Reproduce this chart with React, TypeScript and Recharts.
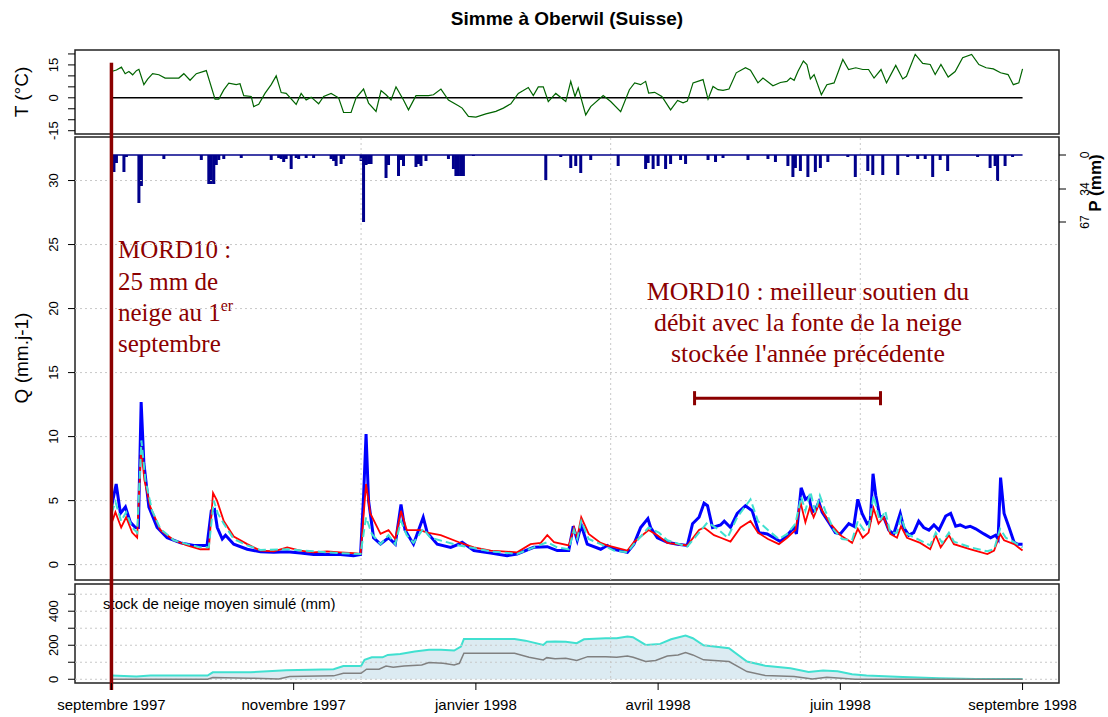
import React from 'react';
import { ComposedChart, Line, Area, Bar, XAxis, YAxis, ReferenceLine, ReferenceArea } from 'recharts';

const SANS = 'Liberation Sans, Arial, sans-serif';
const SERIF = 'Liberation Serif, Times New Roman, serif';
const DARK_RED = '#8B0000';

// x axis: days since 1 Sept 1997
const X_MIN = -14.6;
const X_MAX = 379.6;
const X_TICKS = [0, 73, 146, 219, 292, 365];
const X_LABELS = ['septembre 1997', 'novembre 1997', 'janvier 1998', 'avril 1998', 'juin 1998', 'septembre 1998'];
const X_GRID = [0, 100, 200, 300];

// temperature panel
const T_TICKS = [-15, -10, -5, 0, 5, 10, 15, 20];
const T_LABELS = [-15, 0, 15];
const T_SERIES: [number, number][] = [
  [0, 12], [2, 12.7], [4, 14], [5.5, 11], [7, 12], [8.5, 10.5], [10, 12.4], [11, 13], [13, 6], [14.5, 8.5],
  [16.5, 11], [19, 10.5], [21.5, 9], [27, 9], [29, 11], [31.5, 8], [34, 11], [38, 12.4], [41.5, -0.6], [43, -0.6],
  [45, 3.6], [47, 6.7], [50, 6], [51.5, 6.4], [53, 1], [56, 0.6], [57, -4], [59, -3], [61.5, 2], [64, 6],
  [66, 10], [68, 2.4], [70, 2], [74, -3], [76, 2], [78, -1], [80, 0.3], [83, -2.7], [85, 0.6], [88, 2],
  [91, 0], [93, -6.7], [96, -6.7], [98, 0], [101, 4], [103, -2.4], [106, -6.2], [108, 3.3], [110, 1.4], [112, -1],
  [114, 5], [117, -1], [119, -5.5], [122, 1], [127, 1], [129, 1.4], [132, 4], [135, -1], [139, -3.6], [140.5, -4.7],
  [143, -8.5], [146, -8.8], [150, -7.3], [154, -6.2], [157, -4.7], [160, -2.7], [163, 2], [165, 3.3], [167, 4.7], [169, 1],
  [171, 5], [173, 5], [175, -1.7], [178, 2], [182, -1.7], [184, 7.5], [185.7, 0.6], [187, 4.5], [190, -7.8], [192, -4],
  [197, 1], [200, -1.7], [204, -6.3], [207.5, 3.7], [209.6, 6.8], [212, 6], [214, 7.5], [215.2, 2.2], [217.6, 2.5], [220.5, 0.6],
  [224, -5.5], [226.8, -1.2], [229, -2.3], [230.7, -1.5], [233, 6.8], [237, 8.3], [239, -0.6], [241, 5.2], [243, 3.7], [245, 3.4],
  [247.4, 4], [250.3, 11.4], [254, 13.7], [256, 12.6], [259, 6.8], [261, 9], [265, 5.5], [268, 7], [270.6, 7.5], [272, 9],
  [273.5, 8], [275, 12], [277.2, 16.8], [278.6, 15.2], [280, 8.6], [281.5, 10.6], [284.4, 1.4], [286.6, 6], [289.5, 6.8], [293, 17.5],
  [295.3, 12.9], [298.2, 13.7], [301, 12.9], [303.3, 12.9], [305.5, 9], [308.3, 12.9], [310.5, 6.8], [314.2, 14.8], [317, 8.6], [318.5, 9.8],
  [322, 19.8], [325, 15.7], [328, 15.2], [330, 10.6], [332.3, 15.2], [335.2, 9.5], [338, 12], [341, 18.3], [344.6, 19.8], [347.5, 15.2],
  [350.4, 13.7], [353.3, 13.2], [356.2, 11.4], [359.2, 10.6], [361.3, 6], [363.5, 6.8], [365, 13.2],
];

// discharge panel
const Q_TICKS = [0, 5, 10, 15, 20, 25, 30];
const P_TICKS = [0, 34, 67];
const P_DAILY: [number, number][] = [
  [1, 17], [2, 8], [5, 17], [6, 2], [11, 48], [12, 31], [21, 4], [36, 5], [39, 29], [40, 29],
  [41, 29], [42, 10], [43, 5], [45, 4], [52, 3], [64, 5], [67, 3], [68, 4], [69, 7], [70, 4],
  [72, 14], [74, 3], [75, 4], [78, 3], [81, 3], [88, 4], [89, 6], [90, 11], [92, 9], [93, 4],
  [100, 6], [101, 67], [102, 10], [103, 9], [104, 9], [110, 23], [111, 10], [115, 21], [116, 5], [117, 11],
  [122, 12], [123, 9], [124, 11], [126, 6], [135, 4], [137, 14], [138, 21], [139, 21], [140, 21], [141, 21],
  [145, 1], [174, 25], [180, 2], [184, 13], [186, 11], [188, 18], [192, 5], [203, 11], [214, 14], [215, 8],
  [217, 14], [219, 11], [222, 14], [224, 9], [228, 5], [230, 9], [239, 5], [242, 7], [245, 3], [255, 5],
  [263, 4], [266, 7], [271, 11], [273, 22], [274, 13], [276, 16], [279, 22], [282, 17], [284, 13], [287, 7],
  [295, 2], [298, 22], [303, 16], [305, 20], [309, 20], [315, 20], [319, 2], [323, 4], [326, 4], [329, 22],
  [332, 5], [335, 16], [347, 2], [352, 13], [354, 11], [355, 26], [358, 11], [361, 2],
];
const Q_OBS: [number, number][] = [
  [0, 4.5], [1.9, 6.3], [3.6, 4.0], [5.6, 4.5], [7.6, 3.3], [9.6, 2.9], [10.8, 2.9], [11.9, 12.7], [13, 7.9], [15, 4.5],
  [18.3, 2.9], [22.3, 2.1], [27.7, 1.7], [33, 1.5], [38.3, 1.5], [40, 4.2], [41.3, 4.3], [42.4, 2.9], [44.4, 2.0], [45.7, 2.3],
  [49, 1.6], [54.4, 1.2], [59.7, 1.0], [65, 0.96], [70.4, 1.0], [75.7, 0.9], [81, 0.8], [86.4, 0.8], [91.7, 0.8], [97, 0.7],
  [99.8, 0.8], [101, 5.3], [102, 10.2], [103, 5.0], [105, 2.1], [107.8, 1.6], [111, 2.1], [113.7, 1.6], [116, 4.7], [117.6, 2.7],
  [121, 1.6], [124.9, 3.7], [126.5, 2.5], [130.5, 1.6], [135.9, 1.35], [139.2, 1.6], [140.5, 1.75], [145.2, 1.1], [151.9, 0.9], [158.5, 0.7],
  [162.5, 0.83], [169.2, 1.35], [174.6, 1.4], [178.6, 1.1], [183.2, 1.1], [185, 3.0], [186.6, 1.9], [188.2, 3.1], [190.6, 1.6], [196, 1.2],
  [198.6, 1.5], [201.3, 1.2], [206.7, 0.96], [209.3, 1.6], [212, 2.9], [214.9, 3.6], [216, 2.9], [218.7, 2.1], [222.7, 1.75], [226.7, 1.6],
  [230.7, 1.5], [232.8, 3.2], [235.4, 3.7], [237.4, 4.8], [238.8, 4.6], [240.8, 2.9], [244, 3.1], [245.5, 3.4], [248, 2.9], [250.7, 4.0],
  [254, 4.6], [256.7, 4.2], [259.4, 2.5], [262.7, 2.4], [265.4, 2.1], [268, 1.8], [270.7, 2.3], [273.4, 2.9], [274.4, 2.4], [276.3, 6.0],
  [278, 5.1], [279.4, 5.3], [280.7, 4.1], [282, 4.3], [283.4, 4.9], [284.7, 4.1], [287.4, 3.3], [290, 2.5], [292, 2.4], [295.4, 3.2],
  [297.4, 3.0], [299, 5.1], [300.7, 4.0], [302.7, 3.2], [304, 3.4], [305.1, 7.1], [306.2, 5.4], [307.8, 3.8], [309.4, 3.7], [311.4, 2.7],
  [313.4, 2.4], [316, 4.0], [317.4, 2.9], [319.4, 2.3], [321.4, 2.5], [323.4, 3.4], [325.4, 2.9], [327.5, 2.7], [329.5, 3.1], [331.5, 2.7],
  [334.2, 3.8], [336.2, 4.0], [338.2, 3.0], [340, 3.1], [342.2, 2.9], [344, 3.0], [346.2, 2.8], [349.5, 2.4], [352.2, 2.1], [354.2, 2.3], [355.2, 2.0], [356.2, 6.8],
  [357.6, 4.0], [359.6, 2.9], [361.6, 1.75], [362.9, 1.6], [365, 1.6],
];
const Q_SIM: [number, number][] = [
  [0, 3.2], [1.6, 4.1], [3.9, 2.9], [5.9, 3.7], [8.3, 2.5], [10.3, 2.1], [11.9, 9.2], [13.2, 6.6], [15.6, 4.5], [19.6, 2.7],
  [25, 1.9], [30.3, 1.5], [35.6, 1.2], [39, 1.2], [40.7, 5.6], [42.3, 5.0], [45, 3.4], [49, 2.2], [54.4, 1.6], [59.7, 1.1],
  [65, 1.04], [70.4, 1.35], [75.7, 1.1], [81, 0.96], [86.4, 1.04], [91.7, 0.96], [97, 0.9], [99.8, 0.83], [102, 6.3], [103.7, 4.0],
  [107.8, 2.4], [111, 2.7], [113.7, 2.0], [116, 4.2], [118.3, 2.7], [123.8, 2.7], [126.5, 2.5], [131.9, 2.3], [139.2, 1.75], [145.2, 1.35],
  [151.9, 1.1], [162.5, 0.96], [167.9, 1.6], [172, 1.7], [174.6, 2.3], [177.3, 1.75], [183.2, 1.5], [185.3, 2.9], [186.6, 2.1], [188.2, 3.7],
  [191.2, 2.4], [196, 1.7], [198.6, 1.5], [206.7, 1.1], [209.3, 1.75], [215.2, 2.7], [218.7, 2.3], [222.7, 1.7], [230.7, 1.5], [235.4, 2.7],
  [237.4, 2.9], [241.4, 2.3], [244.1, 2.1], [248, 1.8], [252, 2.9], [256, 3.4], [259, 2.5], [263, 2.0], [267.4, 1.6], [270.7, 2.1],
  [274, 2.7], [276, 4.9], [278, 3.3], [279.8, 4.5], [281.3, 3.7], [283.4, 4.7], [285.4, 4.0], [288, 3.2], [292, 2.3], [296.7, 1.7],
  [299, 2.8], [301, 2.1], [303.3, 2.5], [305.3, 4.4], [307.3, 3.2], [309.4, 3.7], [312, 2.4], [314.7, 2.1], [316.3, 3.0], [318.7, 2.1],
  [324, 1.7], [328, 1.2], [330.2, 2.3], [332.2, 1.35], [335.5, 2.3], [337.5, 1.6], [344.2, 1.2], [350.9, 0.83], [353.6, 1.1], [356, 2.4],
  [357.6, 1.9], [361.6, 1.6], [365, 1.1],
];
const Q_SIM2: [number, number][] = [
  [0, 4.0], [1.6, 4.9], [3.9, 3.4], [5.9, 4.1], [8.3, 2.9], [10.3, 2.5], [12, 9.7], [13.6, 6.6], [16.3, 4.2], [19.6, 2.8],
  [25, 1.9], [30.3, 1.6], [35.6, 1.35], [39, 1.35], [41, 5.0], [42.6, 4.0], [45, 3.2], [49, 2.0], [54.4, 1.5], [59.7, 1.15],
  [70.4, 1.2], [81, 1.04], [91.7, 0.9], [99.8, 0.83], [102, 3.7], [104.3, 2.4], [107.8, 1.6], [111, 2.3], [113.7, 1.6], [116, 3.4],
  [118.3, 2.3], [121, 1.7], [124.9, 2.8], [127.8, 2.1], [139.2, 1.5], [145.2, 1.3], [151.9, 1.04], [162.5, 0.83], [169.2, 1.35], [174.6, 1.75],
  [178.6, 1.35], [183.2, 1.2], [185.3, 2.7], [186.6, 2.0], [188.2, 3.4], [191.2, 2.0], [196, 1.6], [201.3, 1.1], [206.7, 0.96], [209.3, 1.6],
  [215.2, 2.9], [219.3, 2.5], [222.7, 1.9], [230.7, 1.4], [235.4, 2.5], [238.8, 3.3], [242.8, 2.8], [246.8, 2.1], [250.7, 3.7], [256, 5.1],
  [259, 3.4], [263, 2.7], [267.4, 2.0], [270.7, 2.4], [274, 3.2], [276.3, 5.3], [278, 4.2], [280, 5.7], [282, 4.1], [283.8, 5.4],
  [286, 4.2], [289.4, 2.7], [292.7, 2.0], [296.7, 1.9], [299, 3.4], [301.4, 2.7], [303.4, 2.9], [305.3, 5.4], [307.8, 3.4], [310, 4.2],
  [312, 2.5], [314.7, 2.5], [316.3, 3.7], [318.7, 2.4], [324, 1.9], [328, 1.5], [330.2, 2.5], [332.8, 1.7], [335.5, 2.5], [337.5, 1.8],
  [344.2, 1.35], [350.9, 1.04], [353.6, 1.2], [356, 2.8], [358.3, 2.1], [361.6, 1.75], [365, 1.35],
];

// snow panel
const S_TICKS = [0, 100, 200, 300, 400, 500];
const S_LABELS = [0, 200, 400];
const SNOW_MORD10: [number, number][] = [
  [0, 22], [10, 16], [15.6, 22], [38.5, 22], [40.6, 41], [55.7, 41], [70, 53], [89, 59], [92.9, 78], [100, 78],
  [101.4, 114], [104.3, 129], [108.6, 129], [110.7, 143], [115.7, 149], [121.5, 163], [127.2, 173], [132, 173], [137.3, 169], [140, 192],
  [141.2, 237], [145.8, 237], [161.5, 237], [165.8, 227], [173, 202], [174.4, 220], [177.7, 222], [182, 220], [186.4, 212], [189.3, 235],
  [198, 241], [202.4, 241], [206.7, 251], [208.9, 247], [214, 202], [219.8, 208], [224.2, 235], [230, 257], [232.9, 241], [237.2, 200],
  [247.4, 182], [254.6, 104], [261.9, 80], [272, 65], [279.3, 43], [285.1, 51], [290.9, 47], [296.7, 29], [302.5, 22], [317.1, 14],
  [331.6, 6], [346.1, 2], [365, 2],
];
const SNOW_REF: [number, number][] = [
  [0, 0], [38.5, 0], [40.6, 10], [55.7, 6], [67, 2], [71.4, 16], [89, 20], [92.9, 35], [100, 35], [102.2, 59],
  [107.2, 59], [110, 78], [112.9, 71], [117.2, 78], [124.3, 84], [127.2, 98], [132.9, 94], [137.3, 84], [139.4, 94], [141.2, 153],
  [145.8, 153], [161.5, 153], [167.3, 129], [173, 114], [174.4, 127], [177.7, 120], [182, 123], [186.4, 110], [190.8, 133], [198, 133],
  [202.4, 129], [206.7, 137], [209, 129], [214, 104], [218, 110], [222.7, 137], [227, 143], [230, 157], [232.9, 143], [237.2, 114],
  [247.4, 104], [254.6, 45], [261.9, 22], [273.5, 16], [280.8, 2], [286.6, 12], [293.8, 4], [298, 0], [365, 0],
];

// annotation bar: period of better low-flow support
const BAR_FROM = 233.6;
const BAR_TO = 308.1;
const BAR_Q = 13.0;

const rows = (pts: [number, number][], key: string) => pts.map(([day, v]) => ({ day, [key]: v }));

const tData = rows(T_SERIES, 't');
const pData = rows(P_DAILY, 'p');
const obsData = rows(Q_OBS, 'q');
const simData = rows(Q_SIM, 'q');
const sim2Data = rows(Q_SIM2, 'q');
const snowData = rows(SNOW_MORD10, 's');
const snowRefData = rows(SNOW_REF, 's');

const GRID = { stroke: '#c8c8c8', strokeDasharray: '2 3', strokeWidth: 1 };
const FRAME = { fill: 'none', stroke: '#222', strokeWidth: 1.5, fillOpacity: 0 };

function RotTick(props: any) {
  const { x, y, payload, labels, dx, size } = props;
  if (!labels.includes(payload.value)) return <g />;
  const bx = x + dx;
  return (
    <text x={bx} y={y} transform={`rotate(-90 ${bx} ${y})`} textAnchor="middle" fontSize={size} fontFamily={SANS} fill="#000">
      {payload.value}
    </text>
  );
}

// rain bars hang from P = 0 (reversed axis), drawn as 3px strokes like R's type="h"
function RainBar(props: any) {
  const { x, y, width, height } = props;
  if (height == null || isNaN(height)) return <g />;
  const top = Math.min(y, y + height);
  const h = Math.abs(height);
  const cx = x + width / 2;
  return <rect x={cx - 1.5} y={top} width={3} height={h} fill="#00008B" />;
}

const xAxisHidden = <XAxis type="number" dataKey="day" domain={[X_MIN, X_MAX]} hide allowDataOverflow />;

export default function App() {
  return (
    <div className="rc" style={{ position: 'absolute', left: 0, top: 0, width: 1108, height: 717, background: '#fff', fontFamily: SANS }}>
      <style>{'.rc svg.recharts-surface { overflow: visible; }'}</style>
      <svg width={1108} height={717} style={{ position: 'absolute', left: 0, top: 0 }}>
        <text x={567} y={25} textAnchor="middle" fontSize={19} fontWeight="bold" fontFamily={SANS}>Simme à Oberwil (Suisse)</text>
        <text x={28} y={92} transform="rotate(-90 28 92)" textAnchor="middle" fontSize={19} fontFamily={SANS}>T (°C)</text>
        <text x={28} y={358} transform="rotate(-90 28 358)" textAnchor="middle" fontSize={19} fontFamily={SANS}>Q (mm.j-1)</text>
        <text x={1101} y={183} transform="rotate(-90 1101 183)" textAnchor="middle" fontSize={17} fontWeight="bold" fontFamily={SANS}>P (mm)</text>
        <g fill={DARK_RED} fontFamily={SERIF} fontSize={25}>
          <text x={118} y={258}>MORD10 :</text>
          <text x={118} y={290}>25 mm de</text>
          <text x={118} y={321}>neige au 1<tspan dy={-10} fontSize={16}>er</tspan></text>
          <text x={118} y={352}>septembre</text>
        </g>
        <g fill={DARK_RED} fontFamily={SERIF} fontSize={25.8} textAnchor="middle">
          <text x={808} y={300}>MORD10 : meilleur soutien du</text>
          <text x={808} y={331}>débit avec la fonte de la neige</text>
          <text x={808} y={362}>stockée l'année précédente</text>
        </g>
        <text x={103} y={609} fontSize={15} fontFamily={SANS}>stock de neige moyen simulé (mm)</text>
      </svg>

      {/* temperature */}
      <div style={{ position: 'absolute', left: 0, top: 40 }}>
        <ComposedChart width={1108} height={96} data={tData} margin={{ top: 10, right: 49, bottom: 2, left: 15 }}>
          {xAxisHidden}
          <YAxis type="number" domain={[-16.5, 21.8]} ticks={T_TICKS} interval={0} width={60} allowDataOverflow
            axisLine={false} tickSize={7} tickMargin={0} tickLine={{ stroke: '#000' }}
            tick={(p: any) => <RotTick {...p} labels={T_LABELS} dx={-10} size={13} />} />
          <ReferenceArea x1={X_MIN} x2={X_MAX} y1={-16.5} y2={21.8} {...FRAME} ifOverflow="visible" />
          <ReferenceLine segment={[{ x: 0, y: 0 }, { x: 365, y: 0 }]} stroke="#000" strokeWidth={1.5} ifOverflow="visible" />
          <Line type="linear" dataKey="t" stroke="#006400" strokeWidth={1.2} dot={false} isAnimationActive={false} />
          <ReferenceLine segment={[{ x: 0, y: 16 }, { x: 0, y: -17.6 }]} stroke={DARK_RED} strokeWidth={3.5} ifOverflow="visible" />
        </ComposedChart>
      </div>

      {/* discharge + precipitation */}
      <div style={{ position: 'absolute', left: 0, top: 136 }}>
        <ComposedChart width={1108} height={446} data={pData} margin={{ top: 1, right: 9, bottom: 2, left: 15 }}>
          {xAxisHidden}
          <YAxis yAxisId="q" type="number" domain={[-1.2, 33.4]} ticks={Q_TICKS} interval={0} width={60} allowDataOverflow
            axisLine={false} tickSize={7} tickMargin={0} tickLine={{ stroke: '#000' }}
            tick={(p: any) => <RotTick {...p} labels={Q_TICKS} dx={-10} size={13} />} />
          <YAxis yAxisId="p" orientation="right" reversed type="number" domain={[-18, 425]} ticks={P_TICKS} interval={0} width={40} allowDataOverflow
            axisLine={false} tickSize={7} tickMargin={0} tickLine={{ stroke: '#000' }}
            tick={(p: any) => <RotTick {...p} labels={P_TICKS} dx={23} size={12} />} />
          {Q_TICKS.map((v) => <ReferenceLine key={'h' + v} yAxisId="q" y={v} {...GRID} />)}
          {X_GRID.map((v) => <ReferenceLine key={'v' + v} yAxisId="q" x={v} {...GRID} />)}
          <ReferenceArea yAxisId="q" x1={X_MIN} x2={X_MAX} y1={-1.2} y2={33.4} {...FRAME} ifOverflow="visible" />
          <ReferenceLine yAxisId="p" segment={[{ x: 0, y: 0 }, { x: 365, y: 0 }]} stroke="#00008B" strokeWidth={1.3} ifOverflow="visible" />
          <Bar yAxisId="p" dataKey="p" fill="#00008B" shape={(p: any) => <RainBar {...p} />} isAnimationActive={false} />
          <Line yAxisId="q" data={obsData} type="linear" dataKey="q" stroke="#0000FF" strokeWidth={3} dot={false} isAnimationActive={false} />
          <Line yAxisId="q" data={simData} type="linear" dataKey="q" stroke="#FF0000" strokeWidth={1.8} dot={false} isAnimationActive={false} />
          <Line yAxisId="q" data={sim2Data} type="linear" dataKey="q" stroke="#40E0D0" strokeWidth={2} strokeDasharray="8 4" dot={false} isAnimationActive={false} />
          <ReferenceLine yAxisId="q" segment={[{ x: BAR_FROM, y: BAR_Q }, { x: BAR_TO, y: BAR_Q }]} stroke={DARK_RED} strokeWidth={3} ifOverflow="visible" />
          <ReferenceLine yAxisId="q" segment={[{ x: BAR_FROM, y: BAR_Q - 0.55 }, { x: BAR_FROM, y: BAR_Q + 0.55 }]} stroke={DARK_RED} strokeWidth={3} ifOverflow="visible" />
          <ReferenceLine yAxisId="q" segment={[{ x: BAR_TO, y: BAR_Q - 0.55 }, { x: BAR_TO, y: BAR_Q + 0.55 }]} stroke={DARK_RED} strokeWidth={3} ifOverflow="visible" />
          <ReferenceLine yAxisId="q" segment={[{ x: 0, y: 33.5 }, { x: 0, y: -1.4 }]} stroke={DARK_RED} strokeWidth={3.5} ifOverflow="visible" />
        </ComposedChart>
      </div>

      {/* snow stock */}
      <div style={{ position: 'absolute', left: 0, top: 582 }}>
        <ComposedChart width={1108} height={135} data={snowData} margin={{ top: 2, right: 49, bottom: 0, left: 15 }}>
          <XAxis type="number" dataKey="day" domain={[X_MIN, X_MAX]} allowDataOverflow ticks={X_TICKS} interval={0} height={34}
            axisLine={false} tickSize={7} tickMargin={9} tickLine={{ stroke: '#000' }}
            tickFormatter={(v: number) => X_LABELS[X_TICKS.indexOf(v)]}
            tick={{ fontSize: 15, fill: '#000', fontFamily: SANS }} />
          <YAxis type="number" domain={[-22, 560]} ticks={S_TICKS} interval={0} width={60} allowDataOverflow
            axisLine={false} tickSize={7} tickMargin={0} tickLine={{ stroke: '#000' }}
            tick={(p: any) => <RotTick {...p} labels={S_LABELS} dx={-10} size={13} />} />
          {S_TICKS.map((v) => <ReferenceLine key={'h' + v} y={v} {...GRID} />)}
          {X_GRID.map((v) => <ReferenceLine key={'v' + v} x={v} {...GRID} />)}
          <Area type="linear" dataKey="s" baseValue={0} stroke="#40E0D0" strokeWidth={2} fill="#d6e8f0" fillOpacity={0.85} dot={false} isAnimationActive={false} />
          <Line data={snowRefData} type="linear" dataKey="s" stroke="#808080" strokeWidth={1.5} dot={false} isAnimationActive={false} />
          <ReferenceArea x1={X_MIN} x2={X_MAX} y1={-22} y2={560} {...FRAME} ifOverflow="visible" />
          <ReferenceLine segment={[{ x: 0, y: 575 }, { x: 0, y: -63 }]} stroke={DARK_RED} strokeWidth={3.5} ifOverflow="visible" />
        </ComposedChart>
      </div>
    </div>
  );
}
